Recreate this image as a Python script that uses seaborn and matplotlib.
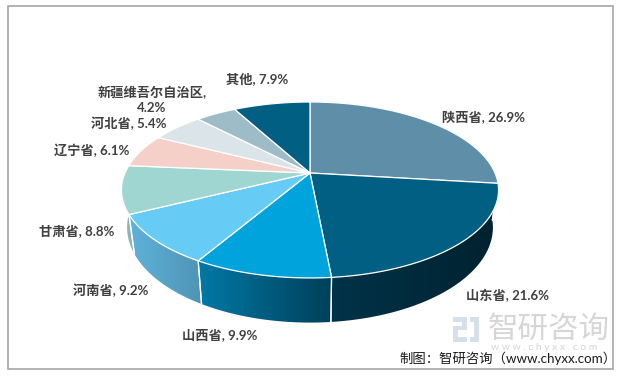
import numpy as np
import matplotlib
matplotlib.use('Agg')
import matplotlib.pyplot as plt
from matplotlib.colors import to_rgb
from matplotlib.patches import Rectangle, Polygon
import seaborn as sns

provinces = ['陕西省', '山东省', '山西省', '河南省', '甘肃省', '辽宁省', '河北省', '新疆维吾尔自治区', '其他']
shares = [26.9, 21.6, 9.9, 9.2, 8.8, 6.1, 5.4, 4.2, 7.9]
top_colors = ['#5f8fa8', '#005f83', '#00a3dc', '#66ccf5', '#a0d6d2', '#f5d0c8', '#dbe4e9', '#9dbcc8', '#005f83']
wall_left = ['#5f8fa8', '#003349', '#0079a6', '#5fb2dc', '#8ab3b0', '#f5d0c8', '#dbe4e9', '#9dbcc8', '#005f83']
wall_right = ['#5f8fa8', '#00222f', '#00405a', '#4f94b4', '#8fb5b2', '#f5d0c8', '#dbe4e9', '#9dbcc8', '#005f83']
label_text = ['陕西省, 26.9%', '山东省, 21.6%', '山西省, 9.9%', '河南省, 9.2%', '甘肃省, 8.8%',
              '辽宁省, 6.1%', '河北省, 5.4%', '新疆维吾尔自治区,\n4.2%', '其他, 7.9%']
label_xy = [(483, 117), (507, 295), (220, 335), (111, 290), (77, 231), (92, 150), (129, 123), (152, 100), (257, 79)]

sns.set_theme(style='white')
plt.rcParams['font.family'] = ['Lato', 'Noto Sans CJK SC', 'DejaVu Sans']

fig, ax = plt.subplots(figsize=(6.3, 3.78), dpi=100)

# pie gives the angles, the wedges get redrawn tilted below
wedges, _ = ax.pie(shares, startangle=90, counterclock=False, normalize=True)
angles = [(w.theta1, w.theta2) for w in wedges]
for w in wedges:
    w.remove()

ax.set_position([0, 0, 1, 1])

cx, cy = 310, 173
tilt_c = 0.193
tilt_a = 84.7
tilt_d = 185
depth = 36
shrink = 0.97


def tilt(th):
    x = np.cos(np.radians(th))
    y = np.sin(np.radians(th))
    den = 1 + tilt_c * y
    return cx + tilt_d * x / den, cy - tilt_a * y / den, depth / den


# side walls, one horizontal gradient each
for (t1, t2), cl, cr in zip(angles, wall_left, wall_right):
    th = np.linspace(t1, t2, 150)
    px, py, dd = tilt(th)
    bx = cx + (px - cx) * shrink
    by = py + dd
    xmin, xmax = min(px.min(), bx.min()), max(px.max(), bx.max())
    ymin, ymax = py.min(), by.max()
    ramp = np.linspace(np.array(to_rgb(cl)), np.array(to_rgb(cr)), 64)[np.newaxis, :, :]
    im = ax.imshow(ramp, extent=[xmin, xmax, ymax, ymin], aspect='auto', zorder=2,
                   interpolation='bilinear')
    im.set_clip_path(Polygon(np.c_[np.r_[px, bx[::-1]], np.r_[py, by[::-1]]], transform=ax.transData))
    # white seams between wall pieces
    for k in (0, -1):
        if py[k] > cy:
            ax.plot([px[k], bx[k]], [py[k], by[k]], color='white', lw=0.9, zorder=2.5)

ax.set_aspect('auto')
ax.set_xlim(0, 630)
ax.set_ylim(378, 0)
ax.axis('off')

for (t1, t2), col in zip(angles, top_colors):
    th = np.linspace(t1, t2, 120)
    px, py, _ = tilt(th)
    ax.fill(np.r_[cx, px], np.r_[cy, py], facecolor=col, edgecolor='white', lw=0.9,
            joinstyle='round', zorder=3)

for txt, (x, y) in zip(label_text, label_xy):
    ax.text(x, y, txt, ha='center', va='center', fontsize=9.5, fontweight='bold',
            color='#404040', linespacing=1.35, zorder=5)

# watermark
for box in [(453, 317, 14, 5), (462, 317, 5, 13), (453, 326, 14, 4), (453, 326, 5, 16), (453, 337, 14, 5),
            (470, 317, 9, 5), (474, 317, 5, 25), (470, 337, 9, 5)]:
    ax.add_patch(Rectangle(box[:2], box[2], box[3], facecolor='#d5e0ea', lw=0, zorder=1))
ax.text(549, 329, '智研咨询', ha='center', va='center', fontsize=22, color='#d6d6d6', zorder=1)
ax.text(544, 347, 'w w w . c h y x x . c o m', ha='center', va='center', fontsize=7.5,
        color='#d6d6d6', zorder=1)

ax.text(617, 358, '制图：智研咨询（www.chyxx.com）', ha='right', va='center', fontsize=9.6,
        color='#1a1a1a', zorder=6)

ax.add_patch(Rectangle((8, 6), 605, 363, fill=False, edgecolor='#a6a6a6', lw=1.2, zorder=7))

fig.savefig('out.png', dpi=100, facecolor='white')
